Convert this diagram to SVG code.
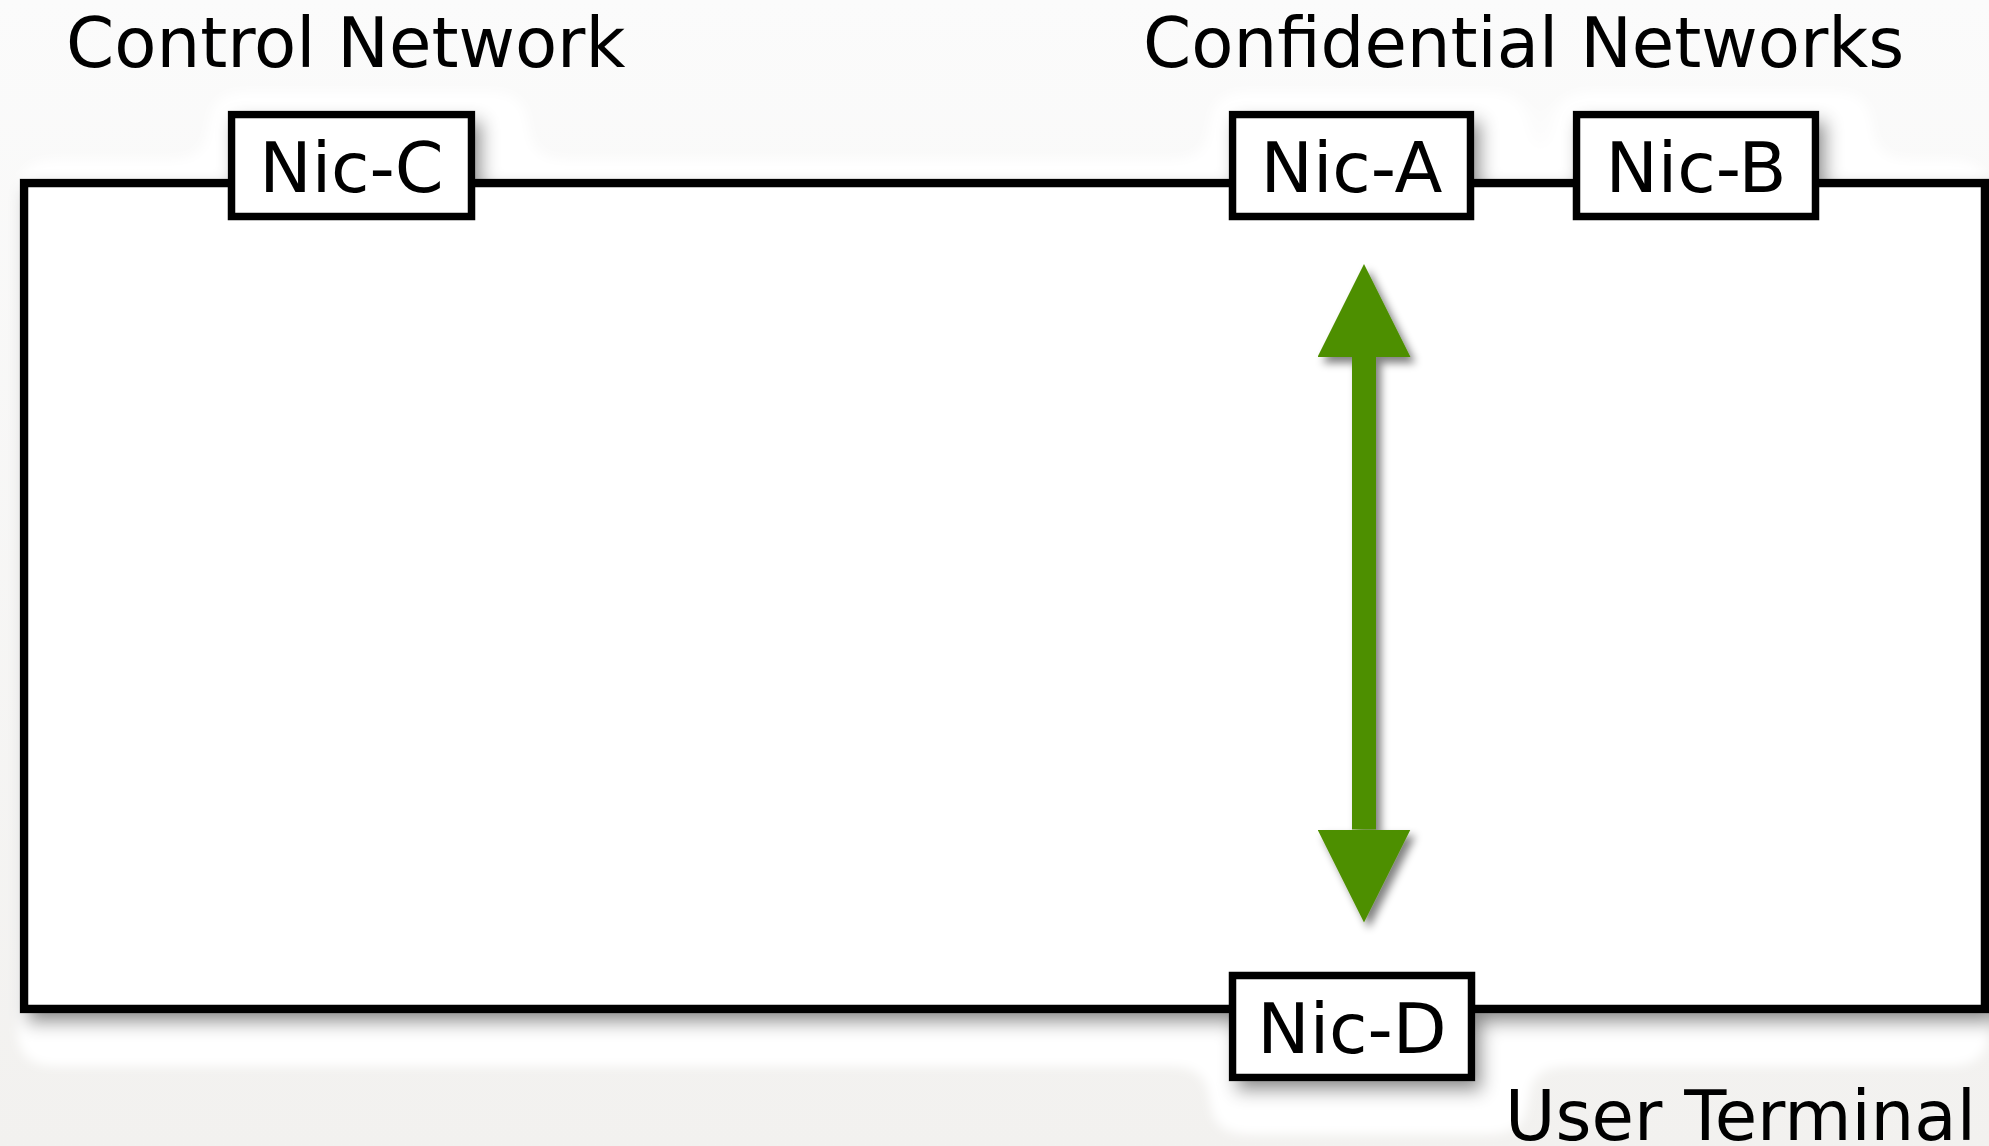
<svg xmlns="http://www.w3.org/2000/svg" width="1989" height="1146" viewBox="0 0 1989 1146">
  <defs>
    <linearGradient id="bg" x1="0" y1="0" x2="0" y2="1">
      <stop offset="0" stop-color="#fbfbfb"/>
      <stop offset="1" stop-color="#f2f1ef"/>
    </linearGradient>
    <!-- white rounded glow offset down-right, plus a soft grey drop shadow -->
    <filter id="glowShadow" filterUnits="userSpaceOnUse" x="0" y="0" width="1989" height="1146">
      <feMorphology in="SourceAlpha" operator="dilate" radius="36" result="dil"/>
      <feOffset in="dil" dx="17" dy="17" result="dilOff"/>
      <feGaussianBlur in="dilOff" stdDeviation="18" result="dilBlur"/>
      <feComponentTransfer in="dilBlur" result="dilRound">
        <feFuncA type="linear" slope="4" intercept="-1.5"/>
      </feComponentTransfer>
      <feGaussianBlur in="dilRound" stdDeviation="3" result="glowA"/>
      <feFlood flood-color="#ffffff"/>
      <feComposite operator="in" in2="glowA" result="glow"/>
      <feGaussianBlur in="SourceAlpha" stdDeviation="9" result="sb"/>
      <feOffset in="sb" dx="7" dy="10" result="so"/>
      <feComponentTransfer in="so" result="shadow">
        <feFuncA type="linear" slope="0.75"/>
      </feComponentTransfer>
      <feMerge>
        <feMergeNode in="glow"/>
        <feMergeNode in="shadow"/>
        <feMergeNode in="SourceGraphic"/>
      </feMerge>
    </filter>
    <filter id="arrowShadow" filterUnits="userSpaceOnUse" x="1280" y="230" width="180" height="730">
      <feGaussianBlur in="SourceAlpha" stdDeviation="4"/>
      <feOffset dx="5" dy="6"/>
      <feComponentTransfer><feFuncA type="linear" slope="0.5"/></feComponentTransfer>
      <feMerge><feMergeNode/><feMergeNode in="SourceGraphic"/></feMerge>
    </filter>
    <marker id="head" markerUnits="userSpaceOnUse" viewBox="0 0 93 93" markerWidth="93" markerHeight="93" refX="0" refY="46.5" orient="auto-start-reverse">
      <path d="M0,0 L93,46.5 L0,93 Z" fill="#4e8f00"/>
    </marker>
    <style>
      .frame { fill: #ffffff; stroke: #000000; stroke-width: 8.5; }
      .nic rect { fill: #ffffff; stroke: #000000; stroke-width: 7.5; }
      .nic text { font-family: "DejaVu Sans", sans-serif; font-size: 70px; fill: #000000; text-anchor: middle; }
      .label { font-family: "DejaVu Sans", sans-serif; font-size: 69px; fill: #000000; }
      .link { stroke: #4e8f00; stroke-width: 24; fill: none; }
    </style>
  </defs>

  <rect x="0" y="0" width="1989" height="1146" fill="url(#bg)"/>

  <!-- machine enclosure with its network interfaces -->
  <g id="hardware" filter="url(#glowShadow)">
    <rect id="enclosure" class="frame" x="24" y="183" width="1961" height="826"/>
    <g id="nic-c" class="nic">
      <rect x="231.5" y="114.5" width="240" height="102"/>
      <text x="351.5" y="192">Nic-C</text>
    </g>
    <g id="nic-a" class="nic">
      <rect x="1232.5" y="114.5" width="238" height="102"/>
      <text x="1351.5" y="192">Nic-A</text>
    </g>
    <g id="nic-b" class="nic">
      <rect x="1576.5" y="114.5" width="239" height="102"/>
      <text x="1696" y="192">Nic-B</text>
    </g>
    <g id="nic-d" class="nic">
      <rect x="1232.5" y="975.5" width="239" height="102"/>
      <text x="1352" y="1053">Nic-D</text>
    </g>
  </g>

  <!-- network labels -->
  <g id="labels">
    <text id="label-control" class="label" x="66" y="67">Control Network</text>
    <text id="label-confidential" class="label" x="1143" y="67">Confidential Networks</text>
    <text id="label-user" class="label" x="1505" y="1140">User Terminal</text>
  </g>

  <!-- bridge between Nic-A and Nic-D -->
  <g id="connectors">
    <line id="link-a-d" class="link" x1="1364" y1="357" x2="1364" y2="829.5" marker-start="url(#head)" marker-end="url(#head)" filter="url(#arrowShadow)"/>
  </g>
</svg>
